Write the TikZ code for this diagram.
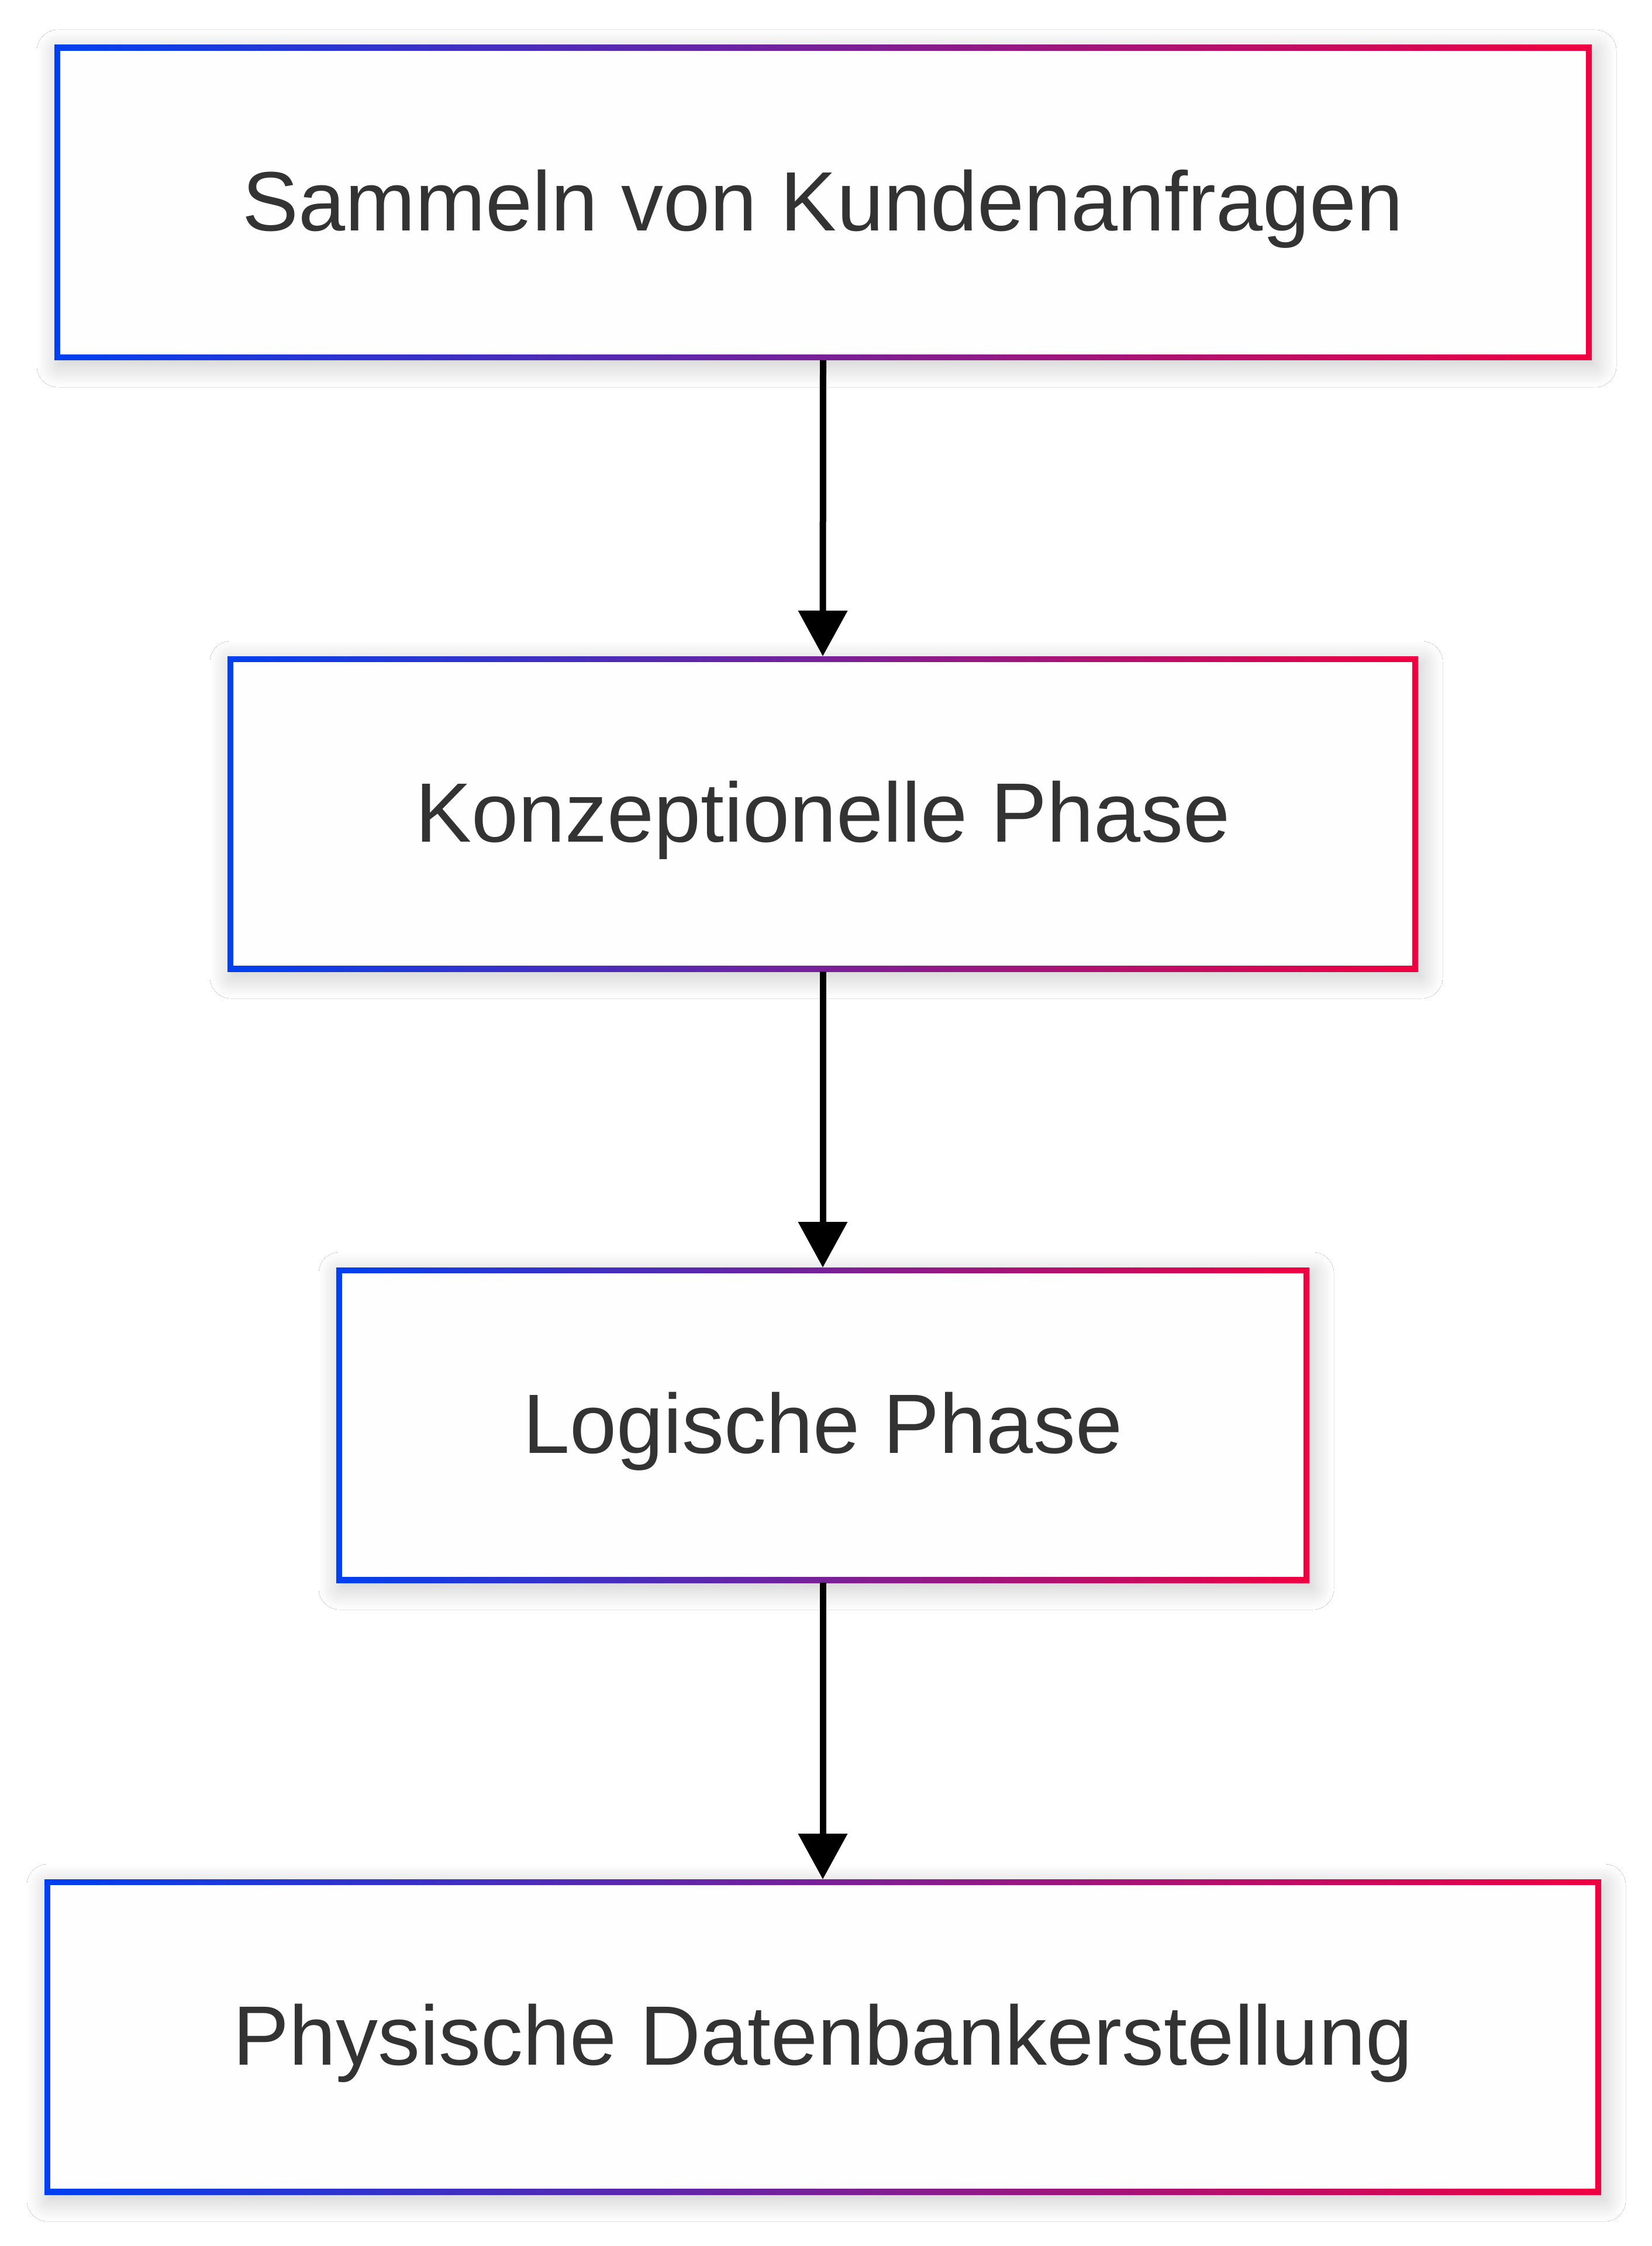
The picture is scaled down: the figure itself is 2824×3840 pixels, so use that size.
\documentclass[tikz,border=0pt]{standalone}
\usepackage{fontspec}
\setmainfont{Liberation Sans}
\usetikzlibrary{arrows.meta,shadows.blur}
\definecolor{gblue}{RGB}{0,64,240}
\definecolor{gred}{RGB}{240,0,64}
\definecolor{txt}{RGB}{51,51,51}
\begin{document}
\begin{tikzpicture}[x=0.25pt,y=-0.25pt,
 phase/.style={rectangle, inner sep=0pt, outer sep=0pt, minimum height=134.75pt,
   text height=26pt, text depth=2pt,
   left color=gblue, right color=gred,
   blur shadow={shadow xshift=1.5pt, shadow yshift=-2.5pt, shadow blur radius=9pt, shadow blur steps=24, shadow opacity=22},
   path picture={\fill[white!99.5!black] ([shift={(2.5pt,2.5pt)}]path picture bounding box.south west) rectangle ([shift={(-2.5pt,-2.5pt)}]path picture bounding box.north east);},
   font=\fontsize{36}{43}\selectfont, text=txt},
 conn/.style={-{Triangle[width=20.5pt,length=19.5pt]}, line width=2.75pt, black}]
\fill[white] (0,0) rectangle (2824,3840);
\useasboundingbox (0,0) rectangle (2824,3840);
\node[phase, minimum width=657.25pt] (n1) at (1407.5,346.5) {Sammeln von Kundenanfragen};
\node[phase, minimum width=509pt] (n2) at (1407,1391.5) {Konzeptionelle Phase};
\node[phase, minimum width=416pt] (n3) at (1407,2436.5) {Logische Phase};
\node[phase, minimum width=665.5pt] (n4) at (1407,3482.5) {Physische Datenbankerstellung};
\draw[conn] (n1.south) -- (n2.north);
\draw[conn] (n2.south) -- (n3.north);
\draw[conn] (n3.south) -- (n4.north);
\end{tikzpicture}
\end{document}
